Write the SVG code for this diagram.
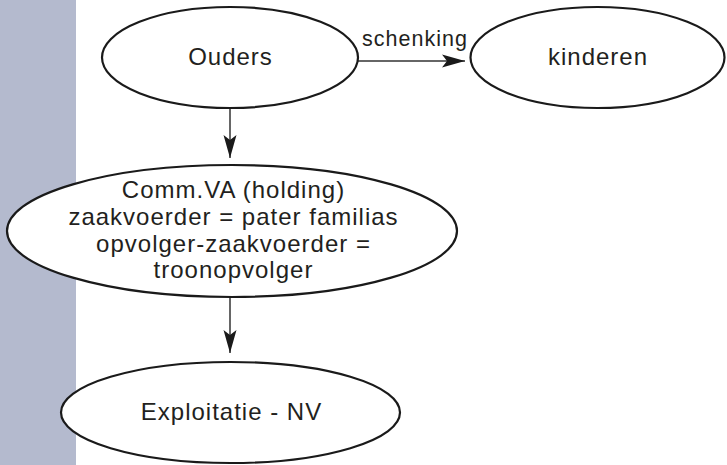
<svg xmlns="http://www.w3.org/2000/svg" width="727" height="465" viewBox="0 0 727 465">
  <style>
    .node { fill: #ffffff; stroke: #1a1a1a; stroke-width: 2.2; }
    .lbl { font-family: "Liberation Sans", Arial, sans-serif; font-size: 24px; letter-spacing: 1px; fill: #231f20; text-anchor: middle; }
    .elbl { font-family: "Liberation Sans", Arial, sans-serif; font-size: 21.5px; letter-spacing: 1px; fill: #231f20; text-anchor: middle; }
    .edge { fill: none; stroke: #333333; stroke-width: 1.5; }
  </style>
  <defs>
    <marker id="arrow" markerUnits="userSpaceOnUse" markerWidth="26" markerHeight="16" viewBox="-24 -8 26 16" refX="0" refY="0" orient="auto">
      <path d="M0,0 L-23,-6.5 L-18,0 L-23,6.5 Z" fill="#1a1a1a"/>
    </marker>
  </defs>
  <rect x="0" y="0" width="76" height="465" fill="#b4bace"/>

  <g id="connectors">
    <line class="edge" x1="358" y1="61" x2="465" y2="61" marker-end="url(#arrow)"/>
    <text class="elbl" x="415" y="46">schenking</text>
    <line class="edge" x1="230" y1="108" x2="230" y2="158" marker-end="url(#arrow)"/>
    <line class="edge" x1="230" y1="297" x2="230" y2="353" marker-end="url(#arrow)"/>
  </g>

  <g id="ouders">
    <ellipse class="node" cx="230" cy="57.5" rx="128" ry="50.5"/>
    <text class="lbl" x="230.5" y="65">Ouders</text>
  </g>

  <g id="kinderen">
    <ellipse class="node" cx="597.5" cy="57.5" rx="127" ry="50.5"/>
    <text class="lbl" x="598" y="65">kinderen</text>
  </g>

  <g id="holding">
    <ellipse class="node" cx="232" cy="231" rx="225" ry="66"/>
    <text class="lbl" x="233.5" y="198">Comm.VA (holding)</text>
    <text class="lbl" x="233.5" y="225">zaakvoerder = pater familias</text>
    <text class="lbl" x="233.5" y="252">opvolger-zaakvoerder =</text>
    <text class="lbl" x="233.5" y="278">troonopvolger</text>
  </g>

  <g id="exploitatie">
    <ellipse class="node" cx="230.5" cy="412.5" rx="169.5" ry="50.5"/>
    <text class="lbl" x="231.5" y="420">Exploitatie - NV</text>
  </g>
</svg>
